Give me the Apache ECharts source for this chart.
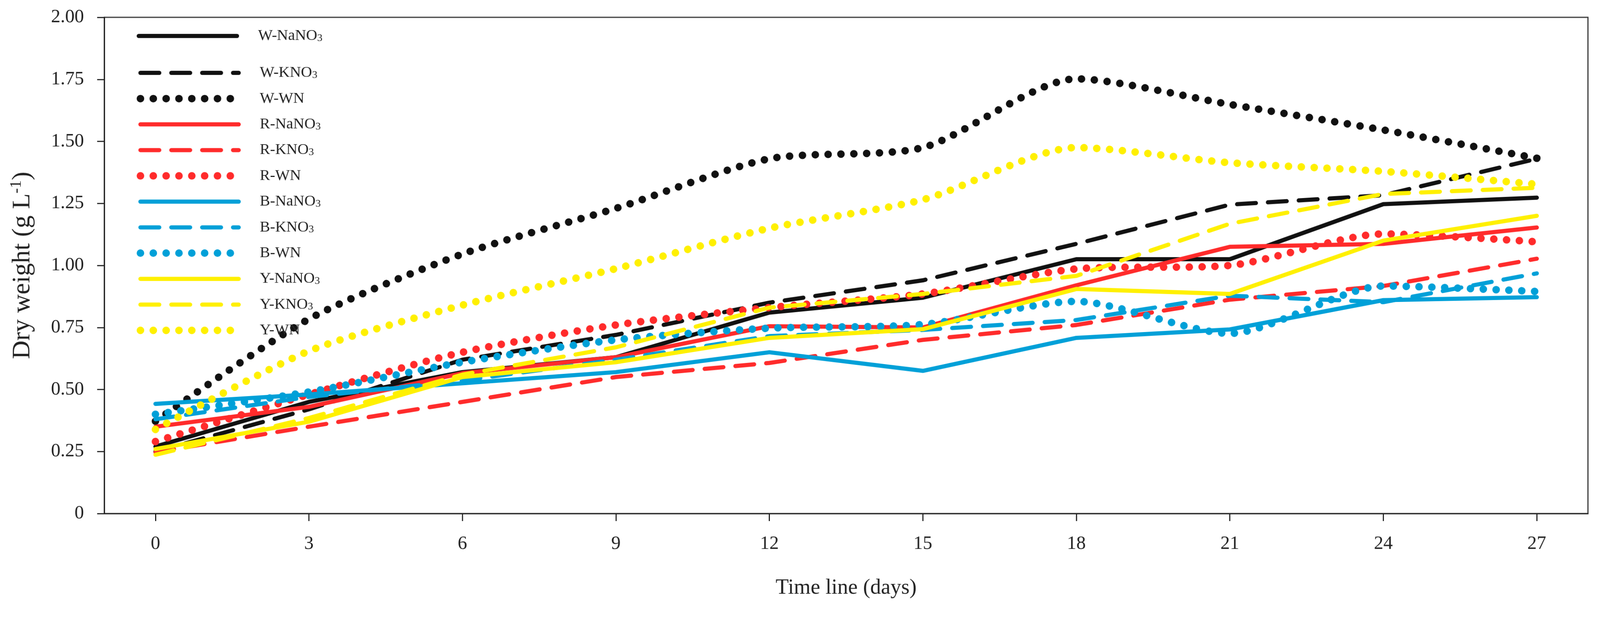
<!DOCTYPE html>
<html>
<head>
<meta charset="utf-8">
<script src="https://cdn.jsdelivr.net/npm/echarts@6.0.0/dist/echarts.min.js"></script>
<style>
html,body{margin:0;padding:0;background:#fff;overflow:hidden;}
#chart{width:4250px;height:1623px;transform-origin:0 0;}
</style>
</head>
<body>
<div id="chart"></div>
<script>
// ---- data ----
const days = [0, 3, 6, 9, 12, 15, 18, 21, 24, 27];
const xTickValues = [0, 3, 6, 9, 12, 15, 18, 21, 24, 27];
const yTickLabels = ['0', '0.25', '0.50', '0.75', '1.00', '1.25', '1.50', '1.75', '2.00'];

const seriesNames = ['W-NaNO3', 'W-KNO3', 'W-WN', 'R-NaNO3', 'R-KNO3', 'R-WN',
                     'B-NaNO3', 'B-KNO3', 'B-WN', 'Y-NaNO3', 'Y-KNO3', 'Y-WN'];

const W_NaNO3 = [0.27, 0.45, 0.57, 0.63, 0.81, 0.87, 1.025, 1.025, 1.247, 1.273];
const W_KNO3  = [0.25, 0.42, 0.62, 0.72, 0.85, 0.94, 1.087, 1.245, 1.283, 1.43];
const W_WN    = [0.372, 0.784, 1.046, 1.23, 1.43, 1.475, 1.752, 1.649, 1.546, 1.432];
const R_NaNO3 = [0.35, 0.43, 0.566, 0.63, 0.755, 0.75, 0.92, 1.075, 1.087, 1.153];
const R_KNO3  = [0.247, 0.35, 0.45, 0.55, 0.607, 0.70, 0.76, 0.862, 0.917, 1.027];
const R_WN    = [0.29, 0.48, 0.65, 0.76, 0.83, 0.885, 0.986, 1.0, 1.127, 1.095];
const B_NaNO3 = [0.442, 0.48, 0.525, 0.57, 0.65, 0.575, 0.708, 0.742, 0.86, 0.872];
const B_KNO3  = [0.38, 0.47, 0.536, 0.62, 0.715, 0.74, 0.78, 0.878, 0.852, 0.968];
const B_WN    = [0.40, 0.49, 0.61, 0.70, 0.747, 0.762, 0.855, 0.726, 0.917, 0.895];
const Y_NaNO3 = [0.26, 0.37, 0.55, 0.61, 0.708, 0.743, 0.905, 0.885, 1.10, 1.20];
const Y_KNO3  = [0.237, 0.385, 0.56, 0.67, 0.83, 0.885, 0.958, 1.168, 1.288, 1.313];
const Y_WN    = [0.339, 0.655, 0.84, 0.987, 1.15, 1.265, 1.475, 1.414, 1.379, 1.327];

const seriesValues = [W_NaNO3, W_KNO3, W_WN, R_NaNO3, R_KNO3, R_WN,
                      B_NaNO3, B_KNO3, B_WN, Y_NaNO3, Y_KNO3, Y_WN];

// ---- styles ----
const colorOf = { W: '#111111', R: '#ff2b2b', B: '#00a0d8', Y: '#fff000' };
const FONT = '"Liberation Serif", "Times New Roman", serif';

function styleFor(name) {
  const c = colorOf[name[0]];
  if (name.endsWith('NaNO3')) return { color: c, width: 11, type: 'solid', cap: 'round', join: 'round' };
  if (name.endsWith('KNO3'))  return { color: c, width: 11, type: [50, 32], cap: 'round', join: 'round' };
  return { color: c, width: 20, type: [0.1, 34], cap: 'round', join: 'round' };
}

const series = seriesNames.map((name, k) => ({
  name: name,
  type: 'line',
  symbol: 'none',
  smooth: name.endsWith('WN') ? 0.25 : false,
  silent: true,
  animation: false,
  itemStyle: { color: colorOf[name[0]] },
  lineStyle: styleFor(name),
  data: days.map((d, i) => [d, seriesValues[k][i]])
}));

const legendItems = seriesNames.map(name => ({
  name: name,
  lineStyle: styleFor(name),
  itemStyle: { opacity: 0 }
}));

const legendCommon = {
  orient: 'vertical',
  left: 363,
  padding: 0,
  itemWidth: 261,
  itemHeight: 40,
  selectedMode: false,
  itemStyle: { opacity: 0 },
  formatter: n => n.replace(/NO3$/, 'NO{sub|3}'),
  textStyle: {
    fontFamily: FONT, fontSize: 41, color: '#222', lineHeight: 40,
    padding: [0, 0, 0, 51],
    rich: { sub: { fontFamily: FONT, fontSize: 28, color: '#222', lineHeight: 12, verticalAlign: 'bottom' } }
  }
};

const option = {
  backgroundColor: '#fff',
  animation: false,
  grid: {
    left: 277, right: 32, top: 46, bottom: 259,
    show: true, borderColor: '#333', borderWidth: 3, backgroundColor: 'transparent'
  },
  legend: [
    Object.assign({}, legendCommon, { top: 75, data: legendItems.slice(0, 1) }),
    Object.assign({}, legendCommon, { top: 173, itemGap: 27.4, data: legendItems.slice(1) })
  ],
  xAxis: {
    type: 'value', min: -1, max: 28,
    name: 'Time line (days)', nameLocation: 'middle', nameGap: 170,
    nameTextStyle: { fontFamily: FONT, fontSize: 57, color: '#222' },
    axisLine: { onZero: false, lineStyle: { color: '#222', width: 3 } },
    axisTick: { show: true, length: 20, inside: false, customValues: xTickValues, lineStyle: { color: '#222', width: 3 } },
    axisLabel: { customValues: xTickValues, margin: 56, fontFamily: FONT, fontSize: 50, color: '#222' },
    splitLine: { show: false }
  },
  yAxis: {
    type: 'value', min: 0, max: 2, interval: 0.25,
    name: 'Dry weight (g L{sup|-1})', nameLocation: 'middle', nameGap: 180,
    nameTextStyle: {
      fontFamily: FONT, fontSize: 68, color: '#222', lineHeight: 74,
      rich: { sup: { fontFamily: FONT, fontSize: 42, color: '#222', lineHeight: 74, verticalAlign: 'top', padding: [0, 0, 30, 0] } }
    },
    axisLine: { show: true, onZero: false, lineStyle: { color: '#222', width: 3 } },
    axisTick: { show: true, length: 19, inside: false, lineStyle: { color: '#222', width: 3 } },
    axisLabel: {
      margin: 54, fontFamily: FONT, fontSize: 50, color: '#222',
      formatter: (v) => yTickLabels[Math.round(v / 0.25)]
    },
    splitLine: { show: false }
  },
  series: series
};

const el = document.getElementById('chart');
const s = Math.min(window.innerWidth / 4250, window.innerHeight / 1623);
if (s > 0 && Math.abs(s - 1) > 0.001) el.style.transform = 'scale(' + s + ')';
const chart = echarts.init(el, null, { renderer: 'canvas' });
chart.setOption(option);
</script>
</body>
</html>
